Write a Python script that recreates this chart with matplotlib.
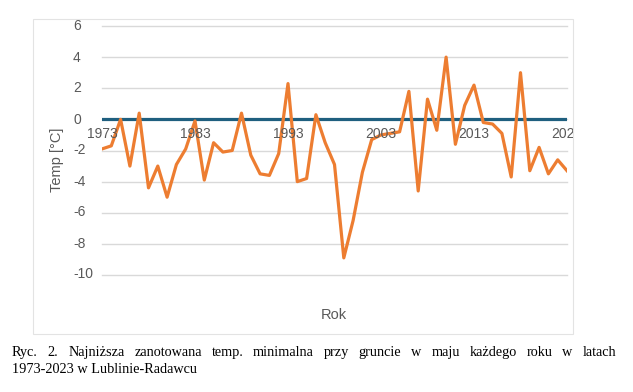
import matplotlib
matplotlib.use("Agg")
import matplotlib.pyplot as plt
from matplotlib.patches import Rectangle

years = list(range(1973, 2024))
temps = [-1.9, -1.7, 0.0, -3.0, 0.4, -4.4, -3.0, -5.0, -2.9, -1.9,
         -0.1, -3.9, -1.5, -2.1, -2.0, 0.4, -2.3, -3.5, -3.6, -2.2,
         2.3, -4.0, -3.8, 0.3, -1.5, -2.9, -8.9, -6.5, -3.4, -1.3,
         -1.0, -0.9, -0.8, 1.8, -4.6, 1.3, -0.7, 4.0, -1.6, 0.9,
         2.2, -0.2, -0.3, -0.9, -3.7, 3.0, -3.3, -1.8, -3.5, -2.6,
         -3.3]
zero_line = [0] * len(years)
year_ticks = [1973, 1983, 1993, 2003, 2013, 2023]
y_ticks = [6, 4, 2, 0, -2, -4, -6, -8, -10]

caption1 = ("Ryc. 2. Najniższa zanotowana temp. minimalna przy gruncie "
            "w maju każdego roku w latach")
caption2 = "1973-2023 w Lublinie-Radawcu"

W, H = 633, 392
fig = plt.figure(figsize=(W / 100, H / 100), dpi=100)
ax = fig.add_axes([102 / W, 1 - 275 / H, (567 - 102) / W, (275 - 26) / H])

gray = '#595959'
ax.set_xlim(1973, 2023)
ax.set_ylim(-10, 6)
for v in y_ticks:
    ax.axhline(v, color='#d9d9d9', lw=1, zorder=0, clip_on=False)
ax.plot(years, zero_line, color='#1f5f7f', lw=2.3, zorder=2)
ax.plot(years, temps, color='#ed7d31', lw=2.3, zorder=3)

for s in ax.spines.values():
    s.set_visible(False)
ax.set_xticks([])
ax.set_yticks([])

# chart area frame
frame = Rectangle((33 / W, 1 - 334 / H), 540 / W, 315 / H, transform=fig.transFigure,
                  fill=False, edgecolor='#e3e3e3', lw=0.8)
fig.add_artist(frame)

font = 'Liberation Sans'
for v in y_ticks:
    y = 1 - (119.5 - v * 15.5) / H
    fig.text(73 / W, y, str(v), ha='left', va='center', fontsize=10,
             color=gray, family=font)

for yr in year_ticks:
    x = (102 + (yr - 1973) * 9.3) / W
    t = fig.text(x, 1 - 134 / H, str(yr), ha='center', va='center',
                 fontsize=10, color=gray, family=font)
    t.set_clip_path(frame)

fig.text(57 / W, 1 - 160 / H, 'Temp [°C]', rotation=90, ha='center', va='center',
         fontsize=10.5, color=gray, family=font)
fig.text(334 / W, 1 - 315 / H, 'Rok', ha='center', va='center',
         fontsize=10.5, color=gray, family=font)

# justified caption
serif = 'Liberation Serif'
words = caption1.split()
texts = [fig.text(0, 1 - 356 / H, w, fontsize=10.3, family=serif,
                  va='baseline', ha='left') for w in words]
fig.canvas.draw()
r = fig.canvas.get_renderer()
widths = [t.get_window_extent(r).width for t in texts]
x0, x1 = 12, 616
gap = (x1 - x0 - sum(widths)) / (len(words) - 1)
x = x0
for t, w in zip(texts, widths):
    t.set_x(x / W)
    x += w + gap
fig.text(x0 / W, 1 - 373 / H, caption2, fontsize=10.3, family=serif,
         va='baseline', ha='left')

fig.savefig('out.png', dpi=100)
